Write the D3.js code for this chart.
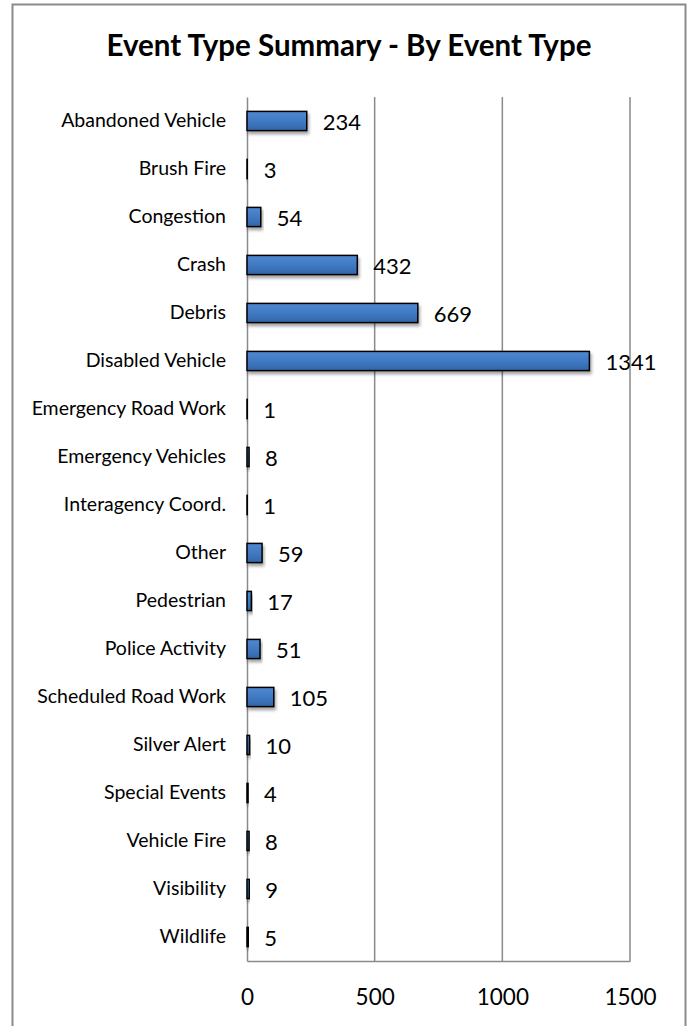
<!DOCTYPE html>
<html>
<head>
<meta charset="utf-8">
<script src="https://cdn.jsdelivr.net/npm/d3@7"></script>
<style>
  body { margin: 0; background: #fff; }
  text { font-family: Lato, "Open Sans", sans-serif; fill: #000; }
</style>
</head>
<body>
<div class="canvas"></div>
<script>
// chart data
const categories = [
    'Abandoned Vehicle', 'Brush Fire', 'Congestion', 'Crash', 'Debris',
    'Disabled Vehicle', 'Emergency Road Work', 'Emergency Vehicles',
    'Interagency Coord.', 'Other', 'Pedestrian', 'Police Activity',
    'Scheduled Road Work', 'Silver Alert', 'Special Events', 'Vehicle Fire',
    'Visibility', 'Wildlife'
];
const counts = [234, 3, 54, 432, 669, 1341, 1, 8, 1, 59, 17, 51, 105, 10, 4, 8, 9, 5];
const xTicks = [0, 500, 1000, 1500];
const title = 'Event Type Summary - By Event Type';

const data = categories.map((c, i) => ({ type: c, count: counts[i] }));

const width = 693;
const height = 1026;

// plot area
const plot = { left: 247, right: 630, top: 97, bottom: 961 };

const svg = d3.select('.canvas')
    .append('svg')
    .attr('width', width)
    .attr('height', height);

// shadow + gradient for the bars
const defs = svg.append('defs');
const grad = defs.append('linearGradient')
    .attr('id', 'barGrad')
    .attr('x1', 0).attr('y1', 0).attr('x2', 0).attr('y2', 1);
grad.append('stop').attr('offset', '0%').attr('stop-color', '#5089cf');
grad.append('stop').attr('offset', '55%').attr('stop-color', '#3f78c2');
grad.append('stop').attr('offset', '100%').attr('stop-color', '#3265a8');

const shadow = defs.append('filter')
    .attr('id', 'shadow')
    .attr('x', '-10%').attr('y', '-30%')
    .attr('width', '130%').attr('height', '180%');
shadow.append('feDropShadow')
    .attr('dx', 1.5).attr('dy', 3)
    .attr('stdDeviation', 1.8)
    .attr('flood-color', '#000')
    .attr('flood-opacity', 0.35);

// outer chart border
svg.append('rect')
    .attr('x', 12.5)
    .attr('y', 4.5)
    .attr('width', 673)
    .attr('height', 1040)
    .attr('fill', '#fff')
    .attr('stroke', '#8a8a8a')
    .attr('stroke-width', 2);

// title
svg.append('text')
    .attr('x', 349)
    .attr('y', 56)
    .attr('text-anchor', 'middle')
    .attr('font-weight', 'bold')
    .attr('font-size', 29.5)
    .text(title);

// scales
const x = d3.scaleLinear()
    .domain([0, 1500])
    .range([plot.left, plot.right]);

const y = d3.scaleBand()
    .domain(categories)
    .range([plot.top, plot.bottom])
    .paddingInner(0.6)
    .paddingOuter(0.3);

// vertical gridlines
svg.append('g')
    .attr('class', 'grid')
    .selectAll('line')
    .data(xTicks.slice(1))
    .enter()
    .append('line')
        .attr('x1', d => x(d))
        .attr('x2', d => x(d))
        .attr('y1', plot.top)
        .attr('y2', plot.bottom)
        .attr('stroke', '#8a8a8a')
        .attr('stroke-width', 1.5);

// x axis (line + labels, no tick marks)
const xAxis = d3.axisBottom(x)
    .tickValues(xTicks)
    .tickFormat(d3.format('d'))
    .tickSize(0);

const xAxisGroup = svg.append('g')
    .attr('class', 'x-axis')
    .attr('transform', `translate(0, ${plot.bottom})`)
    .call(xAxis);
xAxisGroup.select('.domain')
    .attr('stroke', '#8a8a8a')
    .attr('stroke-width', 1.5);
xAxisGroup.selectAll('text')
    .attr('font-family', 'Lato, sans-serif')
    .attr('font-size', 22.5)
    .attr('fill', '#000')
    .attr('dy', 0)
    .attr('y', 44);

// y axis (line + labels)
const yAxis = d3.axisLeft(y)
    .tickSize(0)
    .tickPadding(21);

const yAxisGroup = svg.append('g')
    .attr('class', 'y-axis')
    .attr('transform', `translate(${plot.left}, 0)`)
    .call(yAxis);
yAxisGroup.select('.domain')
    .attr('stroke', '#8a8a8a')
    .attr('stroke-width', 1.5);
yAxisGroup.selectAll('text')
    .attr('font-family', 'Lato, sans-serif')
    .attr('font-size', 19.5)
    .attr('fill', '#000');

// bars
svg.append('g')
    .attr('class', 'bars')
    .selectAll('rect')
    .data(data)
    .enter()
    .append('rect')
        .attr('x', x(0))
        .attr('y', d => y(d.type))
        .attr('width', d => x(d.count) - x(0))
        .attr('height', y.bandwidth())
        .attr('fill', 'url(#barGrad)')
        .attr('stroke', '#000')
        .attr('stroke-width', 1.5)
        .attr('filter', 'url(#shadow)');

// value labels
svg.append('g')
    .attr('class', 'values')
    .selectAll('text')
    .data(data)
    .enter()
    .append('text')
        .attr('x', d => x(d.count) + 16)
        .attr('y', d => y(d.type) + y.bandwidth() / 2)
        .attr('dy', '0.42em')
        .attr('font-size', 22)
        .text(d => d.count);
</script>
</body>
</html>
